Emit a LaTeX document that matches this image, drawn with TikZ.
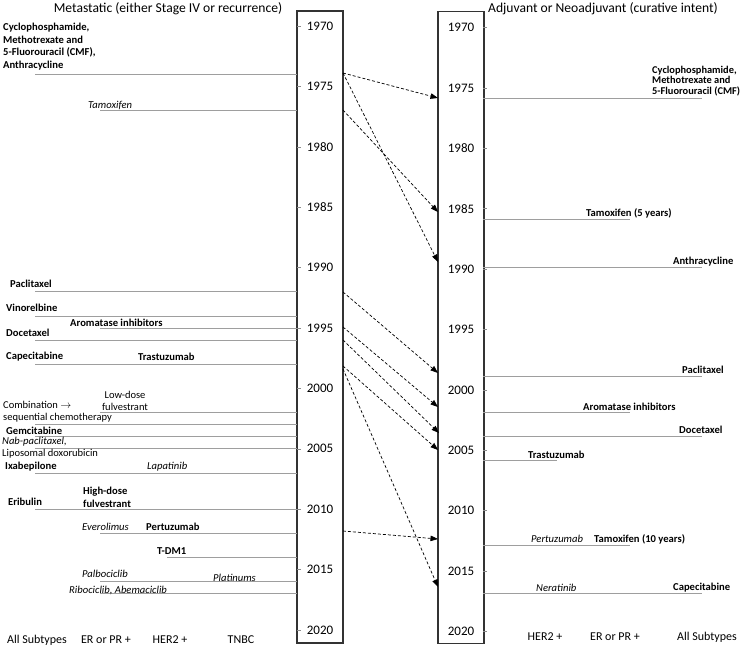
\documentclass[tikz,border=0pt]{standalone}
\usepackage{fontspec}
\setmainfont{Carlito}
\usetikzlibrary{positioning, arrows.meta}

% vertical position of a year (in px of the picture)
\pgfmathdeclarefunction{yrpos}{1}{\pgfmathparse{26+12.08*(#1-1970)}}

\begin{document}
\begin{tikzpicture}[x=1pt, y=-1pt,
  tbox/.style={draw=black!80, line width=1.7pt, minimum width=46pt, minimum height=632pt, inner sep=0pt},
  yrlbl/.style={font=\fontsize{13}{15}\selectfont, inner sep=0pt},
  ttl/.style={font=\fontsize{13.6}{16}\selectfont, inner sep=0pt},
  grp/.style={font=\fontsize{12}{14}\selectfont, inner sep=0pt},
  drug/.style={font=\bfseries\fontsize{10.6}{12.7}\selectfont, inner sep=0pt, anchor=west, align=left},
  drugit/.style={font=\itshape\fontsize{10.6}{12}\selectfont, inner sep=0pt, anchor=west},
  drugrm/.style={font=\fontsize{10.5}{12}\selectfont, inner sep=0pt, anchor=west, align=left},
  tl/.style={draw=black!38, line width=0.8pt},
  tickmark/.style={draw=black!45, line width=0.6pt},
  arr/.style={-{Triangle[length=7.5pt, width=5.5pt]}, dash pattern=on 3pt off 2pt, line width=0.7pt},
]
\useasboundingbox (0,0) rectangle (745,649);

% Titles
\node[ttl] (ttlM) at (168,9) {Metastatic (either Stage IV or recurrence)};
\node[ttl] (ttlA) at (603,9) {Adjuvant or Neoadjuvant (curative intent)};

% Timeline boxes
\node[tbox] (mbox) at (320,327) {};
\node[tbox] (abox) at (461,327.5) {};

% Years and ticks
\foreach \y in {1970,1975,...,2020} {
  \node[yrlbl] (my\y) at (320,{yrpos(\y)}) {\y};
  \node[yrlbl] (ay\y) at (461,{yrpos(\y)+1.5}) {\y};
  \draw[tickmark] (297,{yrpos(\y)}) -- (301,{yrpos(\y)});
  \draw[tickmark] (483,{yrpos(\y)+1.5}) -- (487,{yrpos(\y)+1.5});
}

% Metastatic lines
\foreach \x/\y in {35/1974, 100/1977, 35/1992, 35/1994, 100/1995, 35/1996,
                   35/1998, 100/2002, 35/2003, 35/2004, 35/2005, 35/2007,
                   35/2010, 100/2012, 167/2014, 100/2016, 100/2017}
  \draw[tl] (\x,{yrpos(\y)}) -- (297,{yrpos(\y)});

% Metastatic labels
\node[drug] (m1) at (3,46.7) {Cyclophosphamide,\\Methotrexate and\\5-Fluorouracil (CMF),\\Anthracycline};
\node[drugit] (m2) at (88,105) {Tamoxifen};
\node[drug] (m3) at (10,284) {Paclitaxel};
\node[drug] (m4) at (6,308) {Vinorelbine};
\node[drug] (m5) at (70,323) {Aromatase inhibitors};
\node[drug] (m6) at (6,333) {Docetaxel};
\node[drug] (m7) at (6,357) {Capecitabine};
\node[drug] (m8) at (138,357) {Trastuzumab};
\node[drugrm, align=center, anchor=center] (m9) at (125,401) {Low-dose\\fulvestrant};
\node[drugrm] (m10) at (3,411.5) {Combination $\rightarrow$\\sequential chemotherapy};
\node[drug] (m11) at (6,431) {Gemcitabine};
\node[drugit] (m12) at (2,442) {Nab-paclitaxel,};
\node[drugrm] (m13) at (2,454) {Liposomal doxorubicin};
\node[drug] (m14) at (5,467) {Ixabepilone};
\node[drugit] (m15) at (147,467) {Lapatinib};
\node[drug] (m16) at (8,502) {Eribulin};
\node[drug] (m17) at (83,497) {High-dose\\fulvestrant};
\node[drugit] (m18) at (82,527) {Everolimus};
\node[drug] (m19) at (146,527) {Pertuzumab};
\node[drug] (m20) at (157,551) {T-DM1};
\node[drugit] (m21) at (82,574) {Palbociclib};
\node[drugit] (m22) at (213,578) {Platinums};
\node[drugit] (m23) at (69,590) {Ribociclib, Abemaciclib};

% Adjuvant lines
\foreach \x/\y in {702/1976, 630/1986, 702/1990, 702/1999, 630/2002,
                   702/2004, 557/2006, 630/2013, 702/2017}
  \draw[tl] (483,{yrpos(\y)}) -- (\x,{yrpos(\y)});

% Adjuvant labels
\node[drug, font=\bfseries\fontsize{10.4}{10.6}\selectfont] (a1) at (652,81) {Cyclophosphamide,\\Methotrexate and\\5-Fluorouracil (CMF)};
\node[drug] (a2) at (586,213) {Tamoxifen (5 years)};
\node[drug] (a3) at (673,262) {Anthracycline};
\node[drug] (a4) at (682,370) {Paclitaxel};
\node[drug] (a5) at (583,407) {Aromatase inhibitors};
\node[drug] (a6) at (679,430) {Docetaxel};
\node[drug] (a7) at (528,455) {Trastuzumab};
\node[drugit] (a8) at (531,539) {Pertuzumab};
\node[drug] (a9) at (594,539) {Tamoxifen (10 years)};
\node[drugit] (a10) at (536,588) {Neratinib};
\node[drug] (a11) at (673,588) {Capecitabine};

% Subtype headings
\node[grp] (gm1) at (37,640) {All Subtypes};
\node[grp] (gm2) at (106,640) {ER or PR +};
\node[grp] (gm3) at (170,640) {HER2 +};
\node[grp] (gm4) at (241,640) {TNBC};
\node[grp] (ga1) at (545,637) {HER2 +};
\node[grp] (ga2) at (615,637) {ER or PR +};
\node[grp] (ga3) at (707,637) {All Subtypes};

% Arrow ends
\coordinate (sCMF) at (343,73);
\coordinate (sTam) at (343,110);
\coordinate (sPac) at (343,292);
\coordinate (sAro) at (343,327);
\coordinate (sDoc) at (343,340);
\coordinate (sTra) at (343,366);
\coordinate (sCap) at (343,369);
\coordinate (sPer) at (343,531);
\coordinate (tCMF) at (438,98);
\coordinate (tAnt) at (438,262);
\coordinate (tTam) at (438,212);
\coordinate (tPac) at (438,373);
\coordinate (tAro) at (438,407);
\coordinate (tDoc) at (439,433);
\coordinate (tTra) at (438,450);
\coordinate (tCap) at (438,587);
\coordinate (tPer) at (438,539);

% Arrows
\draw[arr] (sCMF) -- (tCMF);
\draw[arr] (sCMF) -- (tAnt);
\draw[arr] (sTam) -- (tTam);
\draw[arr] (sPac) -- (tPac);
\draw[arr] (sAro) -- (tAro);
\draw[arr] (sDoc) -- (tDoc);
\draw[arr] (sTra) -- (tTra);
\draw[arr] (sCap) -- (tCap);
\draw[arr] (sPer) -- (tPer);

\end{tikzpicture}
\end{document}
